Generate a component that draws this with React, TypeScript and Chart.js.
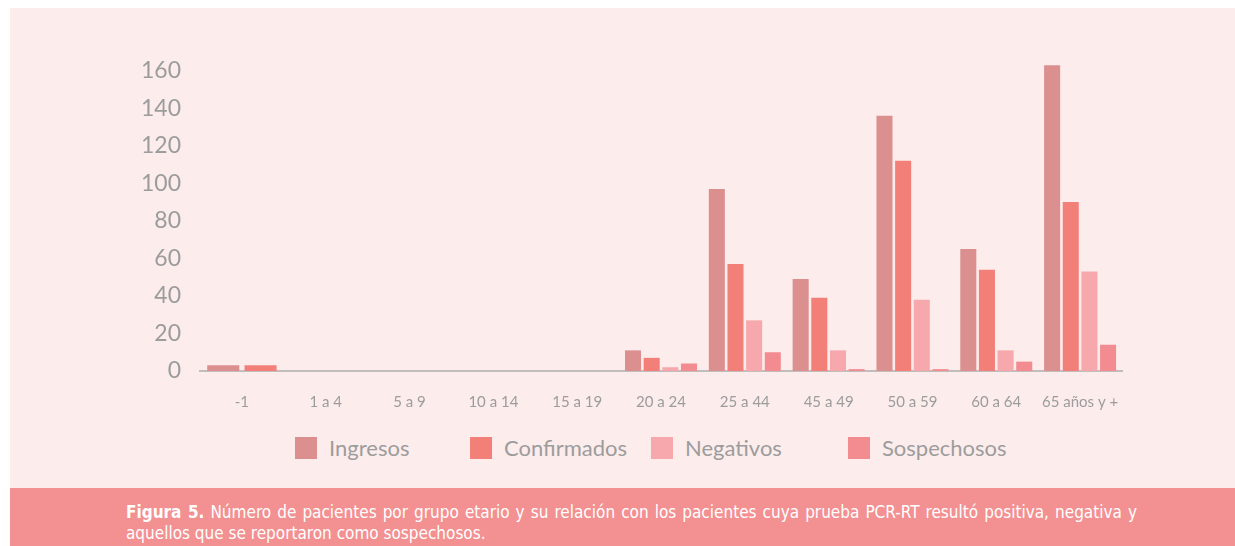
import React, { useEffect, useRef } from "react";
import { Chart, registerables } from "chart.js";

Chart.register(...registerables);

const categories = ["-1", "1 a 4", "5 a 9", "10 a 14", "15 a 19", "20 a 24", "25 a 44", "45 a 49", "50 a 59", "60 a 64", "65 años y +"];
const ingresos = [3, null, null, null, null, 11, 97, 49, 136, 65, 163];
const confirmados = [3, null, null, null, null, 7, 57, 39, 112, 54, 90];
const negativos = [null, null, null, null, null, 2, 27, 11, 38, 11, 53];
const sospechosos = [null, null, null, null, null, 4, 10, 1, 1, 5, 14];
const seriesNames = ["Ingresos", "Confirmados", "Negativos", "Sospechosos"];
const seriesColors = ["#DC8F8F", "#F37F79", "#F7A8AC", "#F28C90"];
const yTicks = [0, 20, 40, 60, 80, 100, 120, 140, 160];
const yMax = 170;
const captionBold = "Figura 5.";
const captionLine1 = " Número de pacientes por grupo etario y su relación con los pacientes cuya prueba PCR-RT resultó positiva, negativa y";
const captionLine2 = "aquellos que se reportaron como sospechosos.";

const GRAY = "#9C9C9C";

export default function App() {
  const ref = useRef<HTMLCanvasElement | null>(null);

  useEffect(() => {
    if (!ref.current) return;
    const series = [ingresos, confirmados, negativos, sospechosos];
    const chart = new Chart(ref.current, {
      type: "bar",
      data: {
        labels: categories,
        datasets: series.map((d, i) => ({
          label: seriesNames[i],
          data: d,
          backgroundColor: seriesColors[i],
          borderWidth: 0,
          skipNull: true,
          categoryPercentage: 0.89,
          barPercentage: 0.86,
        })),
      },
      options: {
        responsive: false,
        animation: false,
        layout: { padding: { top: 44, right: 113, left: 0, bottom: 0 } },
        plugins: { legend: { display: false }, tooltip: { enabled: false } },
        scales: {
          x: {
            grid: { display: false, drawTicks: false },
            border: { display: true, color: "#C2BDBD", width: 2 },
            ticks: {
              color: GRAY,
              font: { family: "Lato, 'Open Sans', sans-serif", size: 15 },
              padding: 22,
              maxRotation: 0,
              autoSkip: false,
            },
            afterFit: (s: any) => {
              s.height = 57;
            },
          },
          y: {
            min: 0,
            max: yMax,
            grid: { display: false, drawTicks: false },
            border: { display: false },
            ticks: {
              color: GRAY,
              font: { family: "Lato, 'Open Sans', sans-serif", size: 23 },
              padding: 19,
            },
            afterBuildTicks: (s: any) => {
              s.ticks = yTicks.map((v) => ({ value: v }));
            },
            afterFit: (s: any) => {
              s.width = 190;
            },
          },
        },
      },
    });
    return () => chart.destroy();
  }, []);

  const legendX = [285, 460, 641, 838];

  return (
    <div>
      <div
        style={{
          position: "absolute",
          left: 10,
          top: 8,
          width: 1225,
          height: 480,
          background: "#FCECEC",
        }}
      >
        <canvas ref={ref} width={1225} height={420} style={{ position: "absolute", left: 0, top: 0, width: 1225, height: 420 }} />
        {seriesNames.map((n, i) => (
          <div
            key={n}
            style={{
              position: "absolute",
              left: legendX[i],
              top: 429,
              height: 22,
              display: "flex",
              alignItems: "center",
              fontFamily: "Lato, 'Open Sans', sans-serif",
              fontSize: 22,
              color: GRAY,
              whiteSpace: "nowrap",
            }}
          >
            <span style={{ display: "inline-block", width: 22, height: 22, background: seriesColors[i], marginRight: 12 }} />
            <span style={{ lineHeight: "22px" }}>{n}</span>
          </div>
        ))}
      </div>
      <div
        style={{
          position: "absolute",
          left: 10,
          top: 488,
          width: 1225,
          height: 58,
          background: "#F39091",
          overflow: "hidden",
          color: "#FFFFFF",
          fontFamily: "'Liberation Sans Narrow', 'DejaVu Sans Condensed', 'Roboto', sans-serif",
          fontSize: 17,
        }}
      >
        <div
          style={{
            position: "absolute",
            left: 116,
            top: 14,
            width: 1011,
            lineHeight: "21px",
            whiteSpace: "nowrap",
            textAlign: "justify",
            textAlignLast: "justify" as any,
          }}
        >
          <b>{captionBold}</b>
          {captionLine1}
        </div>
        <div style={{ position: "absolute", left: 116, top: 35, lineHeight: "21px", whiteSpace: "nowrap" }}>
          {captionLine2}
        </div>
      </div>
    </div>
  );
}
